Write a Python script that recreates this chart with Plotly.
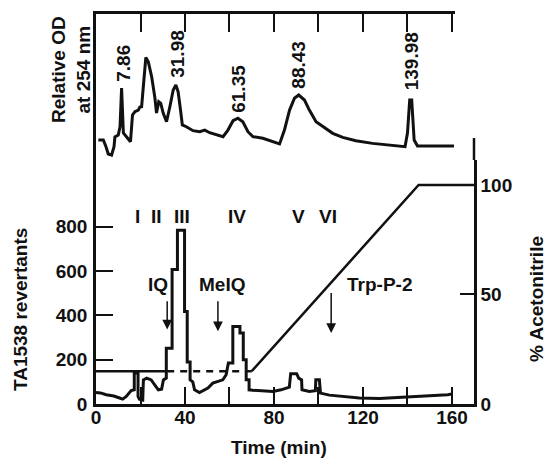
import plotly.graph_objects as go

# ---- data ----
# UV chromatogram (relative OD at 254 nm)
od_time = [1.05, 3.3, 4.5, 5.5, 7.0, 8.1, 8.5, 10.0, 10.8, 11.5, 12.3, 13.7, 15.5, 16.4, 17.5, 19.0,
           19.7, 20.5, 21.2, 22.4, 23.5, 25.0, 26.4, 27.2, 28.2, 29.1, 30.2, 31.7, 33.2, 34.7, 35.9,
           36.9, 38.0, 38.8, 40.6, 43.6, 46.6, 48.9, 51.1, 54.1, 57.1, 59.3, 61.6, 63.8, 66.0, 68.3,
           70.5, 75.0, 79.5, 82.5, 84.7, 87.0, 89.2, 91.1, 93.7, 95.9, 98.9, 101.9, 106.4, 110.9,
           116.8, 124.3, 131.8, 138.9, 140.0, 141.0, 141.9, 143.0, 144.5, 149.7, 155.7, 160.9]
od_value = [0.137, 0.137, 0.091, 0.041, 0.034, 0.091, 0.158, 0.171, 0.228, 0.493, 0.185, 0.158,
            0.125, 0.308, 0.331, 0.342, 0.363, 0.365, 0.514, 0.703, 0.673, 0.571, 0.434, 0.322,
            0.399, 0.388, 0.322, 0.262, 0.365, 0.479, 0.514, 0.468, 0.342, 0.240, 0.228, 0.201,
            0.194, 0.205, 0.187, 0.171, 0.160, 0.205, 0.269, 0.286, 0.262, 0.194, 0.160, 0.149,
            0.125, 0.110, 0.205, 0.342, 0.423, 0.445, 0.411, 0.342, 0.262, 0.228, 0.183, 0.155,
            0.132, 0.114, 0.103, 0.091, 0.185, 0.411, 0.411, 0.137, 0.096, 0.096, 0.101, 0.096]
peak_labels = ["7.86", "31.98", "61.35", "88.43", "139.98"]
peak_label_x = [12.0, 36.3, 63.7, 91.1, 141.7]
peak_label_y = [0.664, 0.726, 0.486, 0.651, 0.678]

# Ames test (TA1538 revertants per fraction)
rev_time = [0, 2, 4.6, 8, 10.6, 12, 13.6, 15.8, 17.2, 17.2, 18.9, 18.9, 19.5, 21, 21.3, 22.8, 24.8,
            26.4, 28, 29.5, 30.3, 31.6, 31.6, 34.2, 34.2, 36.6, 36.6, 39.8, 39.8, 41.0, 41.0, 42.3,
            42.3, 43.5, 44.3, 46.5, 48.8, 50.3, 52.5, 54.8, 57, 58.5, 59.5, 61.5, 61.5, 64.7, 64.7,
            66.2, 66.2, 67.5, 67.5, 68.8, 68.8, 70.5, 75, 79.5, 83.2, 86.9, 87.5, 90.2, 91.1, 92.4,
            92.6, 95.9, 98.6, 98.8, 100.4, 100.9, 104.9, 109.4, 110.9, 118.4, 127.4, 137.9, 146.9,
            158.1, 160]
rev_value = [52, 50, 42, 36, 27, 22, 34, 61, 64, 140, 140, 34, 22, 18, 109, 117, 109,
             87, 64, 67, 109, 117, 252, 252, 607, 607, 785, 785, 418, 418, 190, 190,
             109, 100, 64, 52, 64, 72, 94, 102, 109, 132, 185, 185, 350, 350, 320,
             320, 200, 200, 110, 110, 64, 62, 60, 57, 64, 76, 137, 137, 117, 109,
             64, 57, 60, 109, 109, 49, 40, 36, 34, 27, 25, 30, 34,
             42, 45]

# Acetonitrile gradient (%)
grad_time_solid = [0, 32, None, 70, 145, 169.9]
grad_pct_solid = [15, 15, None, 15, 100, 100]
grad_time_dash = [32, 70]
grad_pct_dash = [15, 15]

fraction_labels = ["I", "II", "III", "IV", "V", "VI"]
fraction_x = [18.5, 27.0, 38.6, 63.3, 91.1, 104.2]
fraction_y = 846

compound_labels = ["IQ", "MeIQ", "Trp-P-2"]
compound_label_x = [27.8, 56.5, 127.4]
compound_label_y = [539, 539, 539]
arrow_x = [32.0, 54.8, 105.7]
arrow_tail_y = [471, 471, 508]
arrow_tip_y = [336, 328, 320]

x_ticks = [0, 20, 40, 60, 80, 100, 120, 140, 160]
x_tick_text = ["0", "", "40", "", "80", "", "120", "", "160"]
rev_ticks = [0, 200, 400, 600, 800]
pct_ticks = [0, 50, 100]
top_ticks = [20, 40, 60, 80, 100, 120, 140, 160]

# ---- figure ----
INK = "#111111"
FONT = dict(family="Liberation Sans, Arial, sans-serif", size=19, color=INK, weight="bold")

fig = go.Figure()
fig.add_trace(go.Scatter(x=od_time, y=od_value, xaxis="x2", yaxis="y2", mode="lines",
                         line=dict(color=INK, width=3), showlegend=False, cliponaxis=False))
fig.add_trace(go.Scatter(x=rev_time, y=rev_value, xaxis="x", yaxis="y", mode="lines",
                         line=dict(color=INK, width=3), showlegend=False))
fig.add_trace(go.Scatter(x=grad_time_solid, y=grad_pct_solid, xaxis="x", yaxis="y3", mode="lines",
                         line=dict(color=INK, width=2.5), showlegend=False, connectgaps=False))
fig.add_trace(go.Scatter(x=grad_time_dash, y=grad_pct_dash, xaxis="x", yaxis="y3", mode="lines",
                         line=dict(color=INK, width=2.5, dash="7px,6px"), showlegend=False))

X_MAX = 169.9
TOP_DOM = 0.95

annotations = []
for t, x, y in zip(peak_labels, peak_label_x, peak_label_y):
    annotations.append(dict(text=t, x=x, y=y, xref="x2", yref="y2", showarrow=False,
                            textangle=-90, font=FONT, xanchor="center", yanchor="middle"))
for t, x in zip(fraction_labels, fraction_x):
    annotations.append(dict(text=t, x=x, y=fraction_y, xref="x", yref="y", showarrow=False,
                            font=FONT, xanchor="center", yanchor="middle"))
for t, x, y in zip(compound_labels, compound_label_x, compound_label_y):
    annotations.append(dict(text=t, x=x, y=y, xref="x", yref="y", showarrow=False,
                            font=FONT, xanchor="center", yanchor="middle"))
for x, y0, y1 in zip(arrow_x, arrow_tail_y, arrow_tip_y):
    annotations.append(dict(text="", x=x, y=y1, ax=x, ay=y0, xref="x", yref="y",
                            axref="x", ayref="y", showarrow=True, arrowhead=2,
                            arrowsize=1.3, arrowwidth=1.5, arrowcolor=INK))
# axis titles (positions given in page pixels, converted below)
titles = [
    dict(text="Relative OD<br>at 254 nm", x=71, y=70, textangle=-90),
    dict(text="TA1538 revertants", x=20, y=310, textangle=-90),
    dict(text="% Acetonitrile", x=536, y=299, textangle=-90),
    dict(text="Time (min)", x=279, y=447, textangle=0),
]
L, R, T, B, W, H = 96, 74, 14, 54, 548, 458
pw, ph = W - L - R, H - T - B
for a in titles:
    annotations.append(dict(text=a["text"], x=(a["x"] - L) / pw, y=(H - B - a["y"]) / ph,
                            xref="paper", yref="paper", showarrow=False,
                            textangle=a["textangle"], font=FONT,
                            xanchor="center", yanchor="middle"))

axis_common = dict(showline=True, linecolor=INK, linewidth=2.5, ticks="inside",
                   tickcolor=INK, tickwidth=2, showgrid=False, zeroline=False, tickfont=FONT,
                   automargin=False)

SPLIT = 0.6256
RIGHT_TOP = (H - B - 138) / ph  # right axis line reaches up to ~138 px

fig.update_layout(
    width=W, height=H, margin=dict(l=L, r=R, t=T, b=B, autoexpand=False),
    paper_bgcolor="white", plot_bgcolor="rgba(0,0,0,0)", font=FONT, showlegend=False,
    xaxis=dict(axis_common, domain=[0, 1], range=[0, X_MAX], anchor="y",
               tickvals=x_ticks, ticktext=x_tick_text, ticklen=17, ticklabelstandoff=-6),
    yaxis=dict(axis_common, domain=[0, SPLIT], range=[0, 1101.5], anchor="x",
               tickvals=rev_ticks, ticklen=17, ticklabelstandoff=2),
    yaxis3=dict(axis_common, overlaying="y", side="right", anchor="x", range=[0, 111.4],
                tickvals=pct_ticks, ticklen=14, ticklabelstandoff=0),
    xaxis2=dict(axis_common, domain=[0, TOP_DOM], range=[0, X_MAX * TOP_DOM], anchor="y2",
                side="top", tickvals=top_ticks, ticklen=18, showticklabels=False),
    yaxis2=dict(axis_common, domain=[SPLIT, 1], range=[0, 1], anchor="x2",
                ticks="", showticklabels=False),
    annotations=annotations,
    shapes=[dict(type="line", xref="paper", yref="paper", x0=1, x1=1, y0=SPLIT, y1=RIGHT_TOP,
                 line=dict(color=INK, width=2.5))],
)

fig.write_html("out.html", config={"displayModeBar": False},
               post_script="document.body.style.margin='0px';")
